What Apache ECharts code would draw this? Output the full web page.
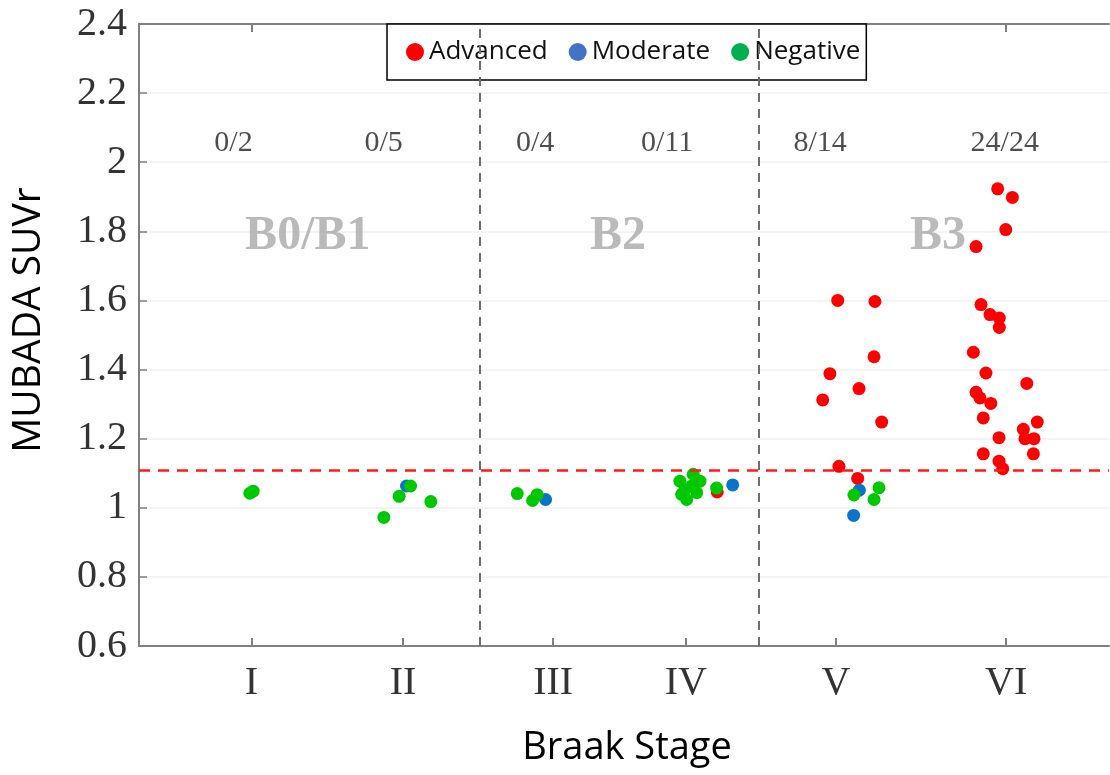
<!DOCTYPE html>
<html>
<head>
<meta charset="utf-8">
<script src="https://cdn.jsdelivr.net/npm/echarts@6/dist/echarts.min.js"></script>
<style>
  html, body { margin: 0; padding: 0; background: #fff; }
  #chart-container { width: 1110px; height: 775px; }
</style>
</head>
<body>
<div id="chart-container"></div>
<script>
var dom = document.getElementById('chart-container');
var myChart = echarts.init(dom, null, { renderer: 'canvas' });

// stage positions on the x axis and their labels
var stagePos = [1, 2.01, 3.01, 3.895, 4.895, 6.03];
var stageNames = ['I', 'II', 'III', 'IV', 'V', 'VI'];
// group boundaries (dashed) and threshold (red dashed)
var groupBounds = [2.522, 4.384];
var threshold = 1.108;

// counts above threshold per stage
var countText = ['0/2', '0/5', '0/4', '0/11', '8/14', '24/24'];
var countX = [0.88, 1.88, 2.89, 3.77, 4.79, 6.02];
var countY = 2.056;

// B groups
var groupText = ['B0/B1', 'B2', 'B3'];
var groupX = [1.375, 3.443, 5.575];
var groupY = 1.785;

// points [x, SUVr]
var advanced = [
  [4.104, 1.046],
  [4.907, 1.600], [5.155, 1.597], [5.149, 1.437], [4.855, 1.388], [5.049, 1.345],
  [4.807, 1.312], [5.200, 1.248], [4.915, 1.120], [5.040, 1.085],
  [5.973, 1.923], [6.071, 1.898], [6.027, 1.805], [5.829, 1.756], [5.862, 1.588],
  [5.922, 1.559], [5.984, 1.549], [5.984, 1.522], [5.811, 1.450], [5.895, 1.390],
  [6.167, 1.360], [5.829, 1.334], [5.855, 1.318], [5.927, 1.302], [5.877, 1.260],
  [6.237, 1.248], [6.144, 1.227], [6.155, 1.200], [6.215, 1.200], [5.982, 1.203],
  [5.877, 1.156], [6.211, 1.156], [5.982, 1.135], [6.007, 1.113]
];
var moderate = [
  [2.033, 1.063], [2.960, 1.024], [4.207, 1.066], [5.051, 1.051], [5.013, 0.978]
];
var negative = [
  [0.989, 1.042], [1.011, 1.048],
  [2.060, 1.063], [1.984, 1.033], [1.882, 0.972], [2.195, 1.018],
  [2.771, 1.041], [2.873, 1.021], [2.904, 1.038],
  [3.855, 1.077], [3.944, 1.097], [3.989, 1.077], [3.889, 1.053], [3.933, 1.063],
  [3.867, 1.039], [3.900, 1.024], [3.967, 1.044], [4.100, 1.057],
  [5.182, 1.058], [5.015, 1.037], [5.149, 1.024]
];

var serif = '"Liberation Serif", "DejaVu Serif", serif';
var sans = '"Open Sans", "Noto Sans", sans-serif';
var axisGray = '#808080';

var countData = countText.map(function (t, i) { return [countX[i], countY, t]; });
var groupData = groupText.map(function (t, i) { return [groupX[i], groupY, t]; });

var option = {
  animation: false,
  backgroundColor: '#fff',
  grid: { left: 139, right: 1, top: 24, bottom: 129, containLabel: false },
  legend: {
    left: 387, top: 24,
    padding: [15, 6, 15, 19],
    backgroundColor: '#fff',
    borderColor: '#000',
    borderWidth: 1.5,
    borderRadius: 0,
    icon: 'circle',
    itemWidth: 18, itemHeight: 18,
    itemGap: 21,
    textStyle: { fontFamily: sans, fontSize: 26, color: '#111', lineHeight: 18 },
    data: [
      { name: 'Advanced', itemStyle: { color: '#ff0000' } },
      { name: 'Moderate', itemStyle: { color: '#4472c4' } },
      { name: 'Negative', itemStyle: { color: '#00b050' } }
    ]
  },
  xAxis: [
    {
      type: 'value', min: 0.25, max: 6.715,
      axisLine: { show: true, lineStyle: { color: axisGray, width: 2 } },
      axisTick: { show: true, inside: true, length: 8, customValues: stagePos,
        lineStyle: { color: axisGray, width: 2 } },
      axisLabel: {
        customValues: stagePos, margin: 17,
        fontFamily: serif, fontSize: 40, color: '#333', lineHeight: 40,
        formatter: function (v) {
          var best = 0;
          for (var i = 0; i < stagePos.length; i++) {
            if (Math.abs(stagePos[i] - v) < Math.abs(stagePos[best] - v)) best = i;
          }
          return stageNames[best];
        }
      },
      splitLine: { show: false }
    },
    {
      type: 'value', position: 'top', min: 0.25, max: 6.715,
      axisLine: { show: true, lineStyle: { color: axisGray, width: 2 } },
      axisTick: { show: true, inside: true, length: 8, customValues: stagePos,
        lineStyle: { color: axisGray, width: 2 } },
      axisLabel: { show: false },
      splitLine: { show: false }
    }
  ],
  yAxis: {
    type: 'value', min: 0.6, max: 2.4, interval: 0.2,
    axisLine: { show: true, lineStyle: { color: axisGray, width: 2 } },
    axisTick: { show: true, inside: true, length: 8, lineStyle: { color: axisGray, width: 1.5 } },
    axisLabel: { margin: 12, fontFamily: serif, fontSize: 40, color: '#333' },
    splitLine: { show: true, lineStyle: { color: '#f0f0f2', width: 1.5 } }
  },
  graphic: [
    {
      type: 'text', x: 29, y: 320, rotation: Math.PI / 2,
      style: { text: 'MUBADA SUVr', font: '39px ' + sans, fill: '#000',
        align: 'center', verticalAlign: 'middle' }
    },
    {
      type: 'text', x: 627, y: 748,
      style: { text: 'Braak Stage', font: '38px ' + sans, fill: '#000',
        align: 'center', verticalAlign: 'middle' }
    }
  ],
  series: [
    {
      type: 'line', data: [], silent: true, symbol: 'none',
      markLine: {
        silent: true, symbol: 'none', label: { show: false },
        data: [
          { xAxis: groupBounds[0], lineStyle: { color: '#6e6e6e', width: 2, type: [9, 7] } },
          { xAxis: groupBounds[1], lineStyle: { color: '#6e6e6e', width: 2, type: [9, 7] } },
          { yAxis: threshold, lineStyle: { color: '#ff1a1a', width: 2.5, type: [11, 8] } }
        ]
      }
    },
    {
      type: 'scatter', silent: true, symbolSize: 0, data: countData,
      label: { show: true, position: 'inside', formatter: function (p) { return p.value[2]; },
        fontFamily: serif, fontSize: 30, color: '#222' }
    },
    {
      type: 'scatter', silent: true, symbolSize: 0, data: groupData,
      label: { show: true, position: 'inside', formatter: function (p) { return p.value[2]; },
        fontFamily: serif, fontSize: 48, fontWeight: 'bold', color: '#a9a9a9' }
    },
    { name: 'Advanced', type: 'scatter', symbolSize: 13, data: advanced,
      itemStyle: { color: '#ff0000', opacity: 1 } },
    { name: 'Moderate', type: 'scatter', symbolSize: 13, data: moderate,
      itemStyle: { color: '#0b74c9', opacity: 1 } },
    { name: 'Negative', type: 'scatter', symbolSize: 13, data: negative,
      itemStyle: { color: '#00c800', opacity: 1 } }
  ]
};

myChart.setOption(option);
window.addEventListener('resize', myChart.resize);
</script>
</body>
</html>
